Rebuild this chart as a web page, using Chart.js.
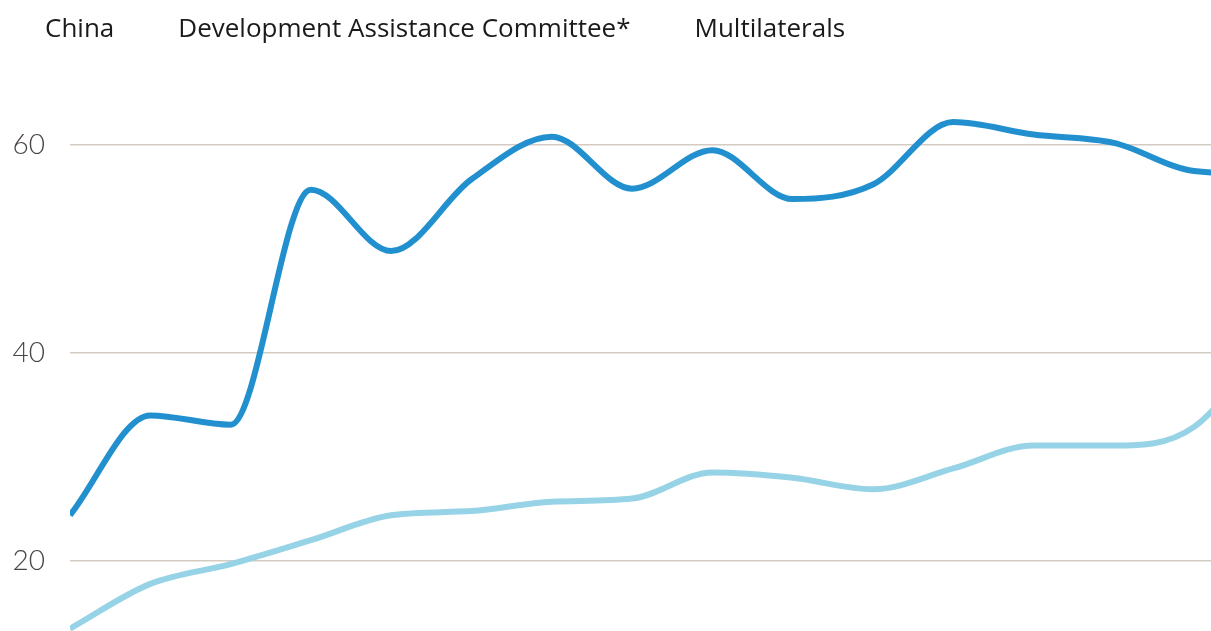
<!doctype html>
<html lang="en">
<head>
<meta charset="utf-8">
<title>Lending shares</title>
<style>
  body { margin: 0; background: #fff; }
  #wrap { position: relative; width: 1211px; height: 631px; }
  #legend { position: absolute; top: 9px; left: 45px; display: flex; gap: 64px;
            font: 26px "Open Sans", sans-serif; color: #1a1a1a; z-index: 2; }
  canvas { position: absolute; left: 0; top: 0; }
</style>
</head>
<body>
<div id="wrap">
  <div id="legend"></div>
  <canvas id="lendingChart" width="1211" height="631"></canvas>
</div>
<script src="https://cdn.jsdelivr.net/npm/chart.js@4.4.1/dist/chart.umd.min.js"></script>
<script>
// series (one value per period, index 0..15)
var seriesNames = ['China', 'Development Assistance Committee*', 'Multilaterals'];
var china = [];
var dac = [24.4, 34.0, 33.1, 55.7, 49.8, 56.7, 60.8, 55.8, 59.5, 54.8, 56.2, 62.2, 61.0, 60.2, 57.5, 57.2];
var multilaterals = [13.5, 17.8, 19.7, 22.0, 24.4, 24.8, 25.7, 26.0, 28.5, 28.0, 26.9, 28.9, 31.1, 31.1, 32.9, 42.0];
var yTicks = [20, 40, 60];

var legend = document.getElementById('legend');
for (const name of seriesNames) {
    var s = document.createElement('span');
    s.textContent = name;
    legend.appendChild(s);
}

function points(values) {
    return values.map((v, i) => ({ x: i, y: v }));
}

var ctx = document.getElementById('lendingChart').getContext('2d');
var chart = new Chart(ctx, {
    type: 'line',
    data: {
        datasets: [{
            label: seriesNames[0],
            data: points(china),
            borderColor: '#c0392b',
            borderWidth: 6,
            pointRadius: 0,
            cubicInterpolationMode: 'monotone'
        }, {
            label: seriesNames[1],
            data: points(dac),
            borderColor: '#2290cf',
            borderWidth: 6,
            pointRadius: 0,
            cubicInterpolationMode: 'monotone'
        }, {
            label: seriesNames[2],
            data: points(multilaterals),
            borderColor: '#97d3e6',
            borderWidth: 6,
            pointRadius: 0,
            cubicInterpolationMode: 'monotone'
        }]
    },
    options: {
        responsive: false,
        animation: false,
        layout: { padding: 0, autoPadding: false },
        plugins: {
            legend: { display: false },
            tooltip: { enabled: false }
        },
        scales: {
            x: {
                type: 'linear',
                display: false,
                min: 0,
                max: 14.21
            },
            y: {
                min: 13.27,
                max: 73.94,
                border: { display: false },
                grid: { color: '#d3cbc1', lineWidth: 1.5, drawTicks: false },
                afterBuildTicks: (axis) => { axis.ticks = yTicks.map(v => ({ value: v })); },
                afterFit: (axis) => {
                    // plot runs from the top to the bottom edge of the canvas
                    axis.width = 70;
                    axis.paddingTop = 0;
                    axis.paddingBottom = 0;
                },
                ticks: {
                    padding: 25,
                    color: '#4a4545',
                    font: { family: 'Lato', size: 28, weight: 300 }
                }
            }
        }
    }
});
</script>
</body>
</html>
